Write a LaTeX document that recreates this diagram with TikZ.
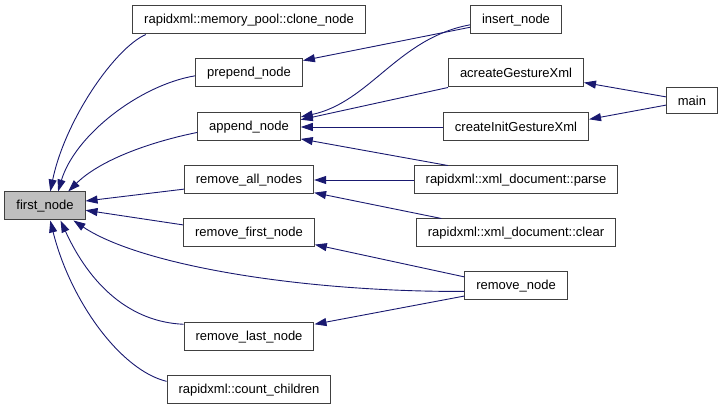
\documentclass[tikz,border=0pt]{standalone}
\usepackage{fontspec}
\setmainfont{Liberation Sans}
\usepackage{xcolor}
\usepackage{tikz}
\usetikzlibrary{arrows.meta}
\definecolor{callblue}{HTML}{191970}
\definecolor{boxgray}{HTML}{BFBFBF}

\begin{document}
\begin{tikzpicture}[x=1pt,y=-1pt,
    fn/.style={draw=black!75,line width=1pt,minimum height=28pt,inner xsep=11.5pt,inner ysep=0pt,font=\fontsize{13}{15}\selectfont},
    call/.style={draw=callblue,line width=0.9pt,-{Triangle[length=12pt,width=8pt]}}]
      \useasboundingbox (0,0) rectangle (723,411);
      % left column
      \node[fn,fill=boxgray] (first) at (45,206) {first\_node};
      \node[fn] (clone) at (249,20) {rapidxml::memory\_pool::clone\_node};
      \node[fn] (prepend) at (249,73) {prepend\_node};
      \node[fn] (append) at (249,127) {append\_node};
      \node[fn] (rmall) at (249,180) {remove\_all\_nodes};
      \node[fn] (rmfirst) at (249,233) {remove\_first\_node};
      \node[fn] (rmlast) at (249,337) {remove\_last\_node};
      \node[fn] (count) at (249,390) {rapidxml::count\_children};
      % right column
      \node[fn] (insert) at (516,20) {insert\_node};
      \node[fn] (acreate) at (516,73) {acreateGestureXml};
      \node[fn] (cinit) at (516,127) {createInitGestureXml};
      \node[fn] (parse) at (516,180) {rapidxml::xml\_document::parse};
      \node[fn] (clear) at (516,233) {rapidxml::xml\_document::clear};
      \node[fn] (rmnode) at (516,286) {remove\_node};
      \node[fn,minimum height=26pt] (main) at (692,101) {main};
      % callers of first_node
      \draw[call] (clone.188) .. controls (115,48) and (65,120) .. (first.70);
      \draw[call] (prepend.183) .. controls (140,85) and (75,135) .. (first.48);
      \draw[call] (append.186) .. controls (150,142) and (100,160) .. (first.32);
      \draw[call] (rmall.188) -- (first.7);
      \draw[call] (rmfirst.173) -- (first.-6);
      \draw[call] (rmnode.186) .. controls (300,292) and (140,265) .. (first.-27);
      \draw[call] (rmlast.169) .. controls (130,322) and (90,285) .. (first.-43);
      \draw[call] (count.174) .. controls (120,370) and (70,300) .. (first.-70);
      % second level
      \draw[call] (insert.189) -- (prepend.13);
      \draw[call] (insert.186) .. controls (398,38) and (370,102) .. (append.11);
      \draw[call] (acreate.south west) -- (append.8);
      \draw[call] (cinit.west) -- (append.east);
      \draw[call] (parse.168) -- (append.-13);
      \draw[call] (parse.west) -- (rmall.east);
      \draw[call] (clear.169) -- (rmall.-11);
      \draw[call] (rmnode.170) -- (rmfirst.-10);
      \draw[call] (rmnode.191) -- (rmlast.11);
      \draw[call] (main.171) -- (acreate.-8);
      \draw[call] (main.189) -- (cinit.6);
    \end{tikzpicture}
\end{document}
